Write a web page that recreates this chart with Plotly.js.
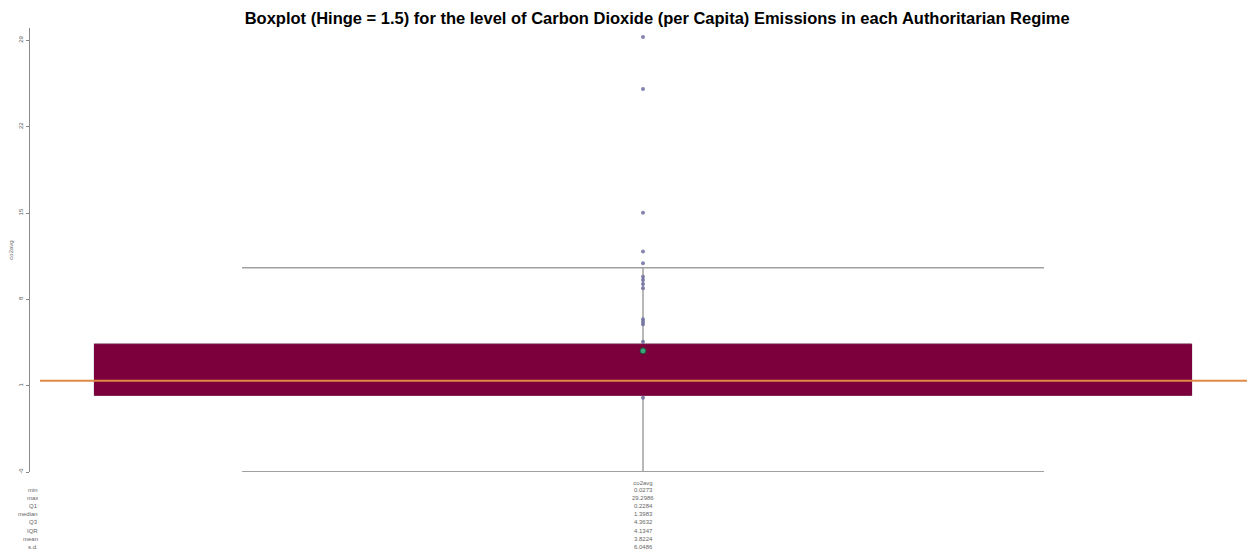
<!DOCTYPE html>
<html>
<head>
<meta charset="utf-8">
<script src="https://cdn.plot.ly/plotly-3.0.1.min.js"></script>
<style>html,body{margin:0;padding:0;background:#fff;}#chart{width:1247px;height:557px;}</style>
</head>
<body>
<div id="chart"></div>
<script>
// ---- data ----
const category = ['co2avg'];
const statNames = ['min', 'max', 'Q1', 'median', 'Q3', 'IQR', 'mean', 's.d.'];
const statValues = [0.0273, 29.2986, 0.2284, 1.3983, 4.3632, 4.1347, 3.8224, 6.0486];
const hinge = 1.5;
// visible individual observations (those not hidden behind the box)
const pointValues = [29.28, 25.05, 15.03, 11.87, 10.92, 9.84, 9.57, 9.24, 8.89, 6.38, 6.18, 5.97, 4.56, 0.0273];
const yTickVals = [-6, 1, 8, 15, 22, 29];

// ---- derived ----
const s = {};
statNames.forEach((n, i) => s[n] = statValues[i]);
const lowerFence = s.Q1 - hinge * s.IQR;
const upperFence = s.Q3 + hinge * s.IQR;

const boxFill = '#7b003b';
const gray = '#a0a0a0';
const font = 'Liberation Sans, Arial, sans-serif';

const traces = [
  {
    type: 'box', x: category, q1: [s.Q1], median: [s.median], q3: [s.Q3],
    lowerfence: [lowerFence], upperfence: [upperFence],
    boxpoints: false, width: 0.9014, whiskerwidth: 0.731,
    line: {color: gray, width: 1.5}, fillcolor: boxFill, hoverinfo: 'skip', showlegend: false
  },
  {
    type: 'box', x: category, q1: [s.Q1], median: [s.median], q3: [s.Q3],
    lowerfence: [s.Q1], upperfence: [s.Q3],
    boxpoints: false, width: 0.9014, whiskerwidth: 0,
    line: {color: boxFill, width: 1}, fillcolor: boxFill, hoverinfo: 'skip', showlegend: false
  },
  {
    type: 'scatter', mode: 'markers', x: pointValues.map(() => category[0]), y: pointValues,
    marker: {size: 4, color: 'rgba(110,110,160,0.85)'}, hoverinfo: 'y', showlegend: false
  },
  {
    type: 'scatter', mode: 'markers', x: category, y: [s.mean],
    marker: {size: 6, color: '#3aa57a', line: {color: '#1f4f3a', width: 1}}, hoverinfo: 'y', showlegend: false
  }
];

const annotations = [];
statNames.forEach((n, i) => {
  annotations.push({
    xref: 'paper', yref: 'paper', x: 10 / 1217, y: 0, xanchor: 'right', yanchor: 'middle',
    yshift: -(18 + 8.1 * i), text: n, showarrow: false, font: {family: font, size: 6, color: '#666'}
  });
  annotations.push({
    xref: 'x', yref: 'paper', x: 0, y: 0, xanchor: 'center', yanchor: 'middle',
    yshift: -(18 + 8.1 * i), text: statValues[i].toFixed(4), showarrow: false, font: {family: font, size: 6, color: '#666'}
  });
});

const layout = {
  width: 1247, height: 557,
  margin: {l: 30, r: 0, t: 28, b: 85},
  paper_bgcolor: '#fff', plot_bgcolor: '#fff',
  boxmode: 'overlay',
  title: {
    text: '<b>Boxplot (Hinge = 1.5) for the level of Carbon Dioxide (per Capita) Emissions in each Authoritarian Regime</b>',
    font: {family: font, size: 16.5, color: '#000'}, x: 0.527, xanchor: 'center', y: 0.968, yanchor: 'middle'
  },
  xaxis: {
    type: 'category', range: [-0.5037, 0.4963], showgrid: false, zeroline: false, showline: false,
    ticks: 'outside', ticklen: 5, tickcolor: 'rgba(0,0,0,0)', tickfont: {family: font, size: 6, color: '#666'}
  },
  yaxis: {
    range: [-6, 30], tickvals: yTickVals, ticktext: yTickVals.map(String), tickangle: -90,
    ticks: 'outside', ticklen: 3, tickcolor: '#888', showline: true, linecolor: '#8a8a8a', linewidth: 1.5,
    showgrid: false, zeroline: false, tickfont: {family: font, size: 6, color: '#555'},
    title: {text: 'co2avg', font: {family: font, size: 6, color: '#666'}, standoff: 4}
  },
  shapes: [{
    type: 'line', layer: 'above', xref: 'paper', yref: 'y', x0: 10 / 1217, x1: 1,
    y0: s.median, y1: s.median, line: {color: '#e08a48', width: 2}
  }],
  annotations: annotations
};

Plotly.newPlot('chart', traces, layout, {displayModeBar: false, staticPlot: true});
</script>
</body>
</html>
